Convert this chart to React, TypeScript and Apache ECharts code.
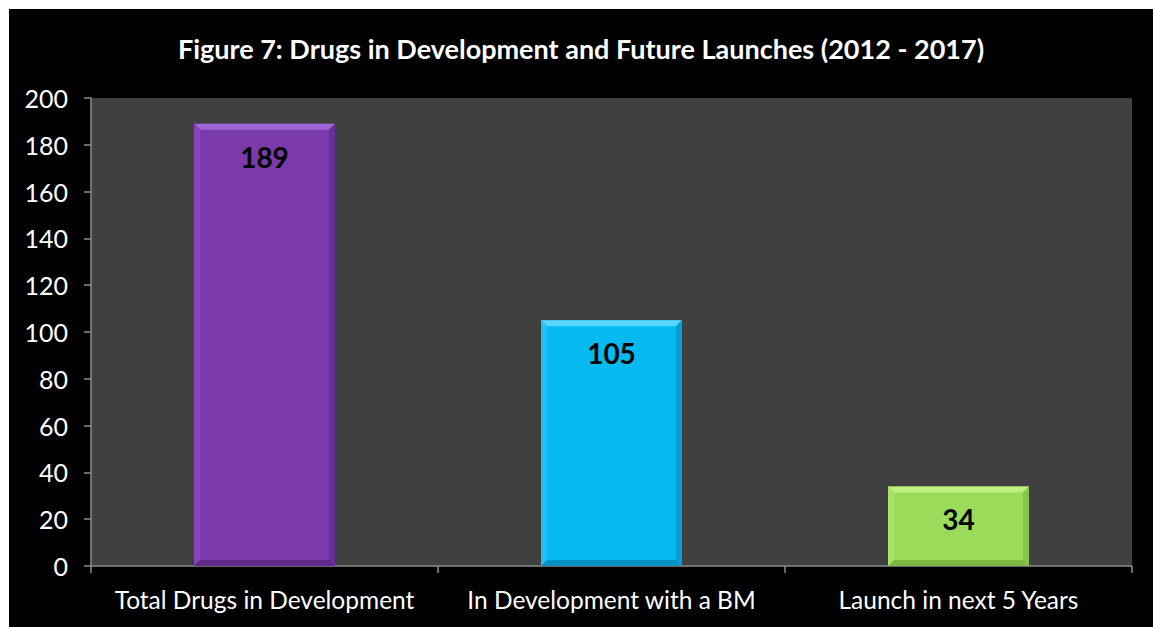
import React, { useEffect, useRef } from "react";
import * as echarts from "echarts";

const categories = ["Total Drugs in Development", "In Development with a BM", "Launch in next 5 Years"];
const values = [189, 105, 34];
const yTicks = { min: 0, max: 200, interval: 20 };
const titleText = "Figure 7: Drugs in Development and Future Launches (2012 - 2017)";

const baseColors = ["#7A3AAA", "#05B9F1", "#9BDB5A"];
const topColors = ["#A068D6", "#5AD6FF", "#BDF07E"];
const leftColors = ["#8446B6", "#1EC2F5", "#A8E266"];
const rightColors = ["#6A2E98", "#039FD2", "#86C54A"];
const bottomColors = ["#62288E", "#0392C2", "#7CB842"];

export default function App() {
  const ref = useRef<HTMLDivElement>(null);
  useEffect(() => {
    document.body.style.margin = "0";
    const chart = echarts.init(ref.current!, null, { renderer: "svg" });
    const font = "Lato, 'Open Sans', sans-serif";
    const bw = 0.406;
    chart.setOption({
      animation: false,
      backgroundColor: "#000000",
      title: {
        text: titleText,
        left: "center",
        top: 21,
        textStyle: { color: "#FFFFFF", fontSize: 27, fontWeight: "bold", fontFamily: font },
      },
      grid: {
        left: 82,
        top: 89,
        right: 21,
        bottom: 61,
        show: true,
        backgroundColor: "#404040",
        borderWidth: 0,
      },
      xAxis: {
        type: "category",
        data: categories,
        axisLine: { show: true, lineStyle: { color: "#8C8C8C", width: 1.5 } },
        axisTick: { show: true, alignWithLabel: false, length: 7, lineStyle: { color: "#8C8C8C", width: 1.5 } },
        axisLabel: { color: "#FFFFFF", fontSize: 24.5, fontFamily: font, margin: 21, interval: 0 },
      },
      yAxis: {
        type: "value",
        min: yTicks.min,
        max: yTicks.max,
        interval: yTicks.interval,
        axisLine: { show: true, lineStyle: { color: "#8C8C8C", width: 1.5 } },
        axisTick: { show: true, length: 7, lineStyle: { color: "#8C8C8C", width: 1.5 } },
        splitLine: { show: false },
        axisLabel: { color: "#FFFFFF", fontSize: 25, fontFamily: font, margin: 23 },
      },
      series: [
        {
          type: "bar",
          data: values.map((v, i) => ({ value: v, itemStyle: { color: baseColors[i] } })),
          barWidth: bw * 100 + "%",
          label: {
            show: true,
            position: "insideTop",
            distance: 19,
            color: "#000000",
            fontSize: 28,
            fontWeight: "bold",
            fontFamily: font,
          },
          z: 2,
        },
        {
          type: "custom",
          silent: true,
          z: 3,
          data: values.map((v, i) => [i, v]),
          renderItem: (params: any, api: any) => {
            const i = api.value(0);
            const topPt = api.coord([i, api.value(1)]);
            const basePt = api.coord([i, 0]);
            const w = api.size([1, 0])[0] * bw;
            const l = topPt[0] - w / 2;
            const r = topPt[0] + w / 2;
            const t = topPt[1];
            const bot = basePt[1];
            const b = 6;
            return {
              type: "group",
              children: [
                { type: "polygon", shape: { points: [[l, t], [r, t], [r - b, t + b], [l + b, t + b]] }, style: { fill: topColors[i] } },
                { type: "polygon", shape: { points: [[l, t], [l + b, t + b], [l + b, bot - b], [l, bot]] }, style: { fill: leftColors[i] } },
                { type: "polygon", shape: { points: [[r, t], [r - b, t + b], [r - b, bot - b], [r, bot]] }, style: { fill: rightColors[i] } },
                { type: "polygon", shape: { points: [[l, bot], [l + b, bot - b], [r - b, bot - b], [r, bot]] }, style: { fill: bottomColors[i] } },
              ],
            };
          },
        },
      ],
    });
    return () => chart.dispose();
  }, []);
  return (
    <div style={{ width: 1153, height: 627, background: "#FFFFFF", position: "relative" }}>
      <div ref={ref} style={{ position: "absolute", left: 9, top: 9, width: 1144, height: 618 }} />
    </div>
  );
}
